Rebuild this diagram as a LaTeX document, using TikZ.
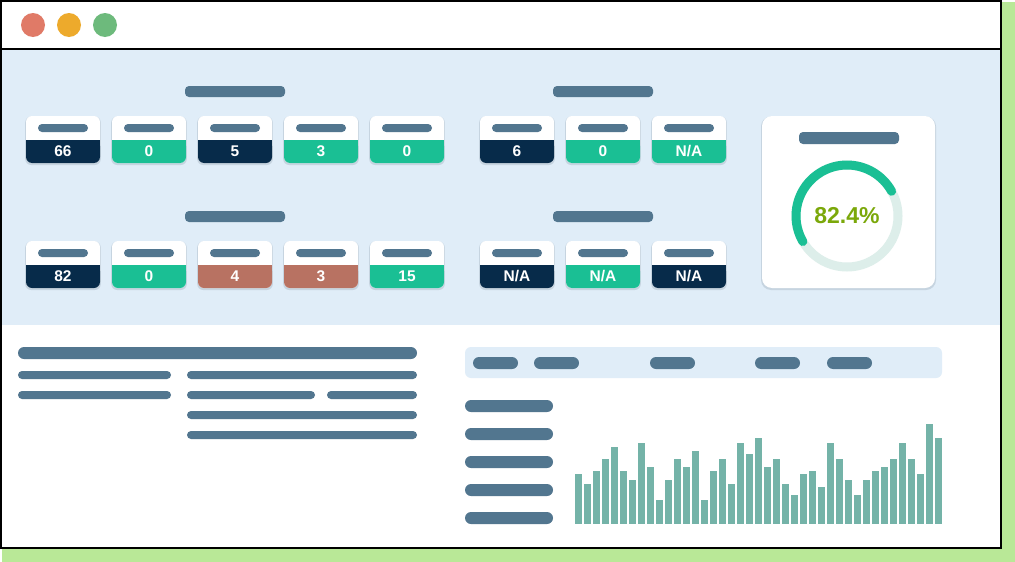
\documentclass[tikz,border=0pt]{standalone}
\usepackage{fontspec}
\setmainfont{Liberation Sans}
\usepackage{tikz}

\definecolor{navy}{HTML}{072B4A}
\definecolor{mint}{HTML}{1ABF94}
\definecolor{rust}{HTML}{B87262}
\definecolor{slate}{HTML}{52768F}
\definecolor{paleblue}{HTML}{E0EDF8}
\definecolor{barteal}{HTML}{74B3A8}
\definecolor{shadowgreen}{HTML}{B9E897}
\definecolor{dotred}{HTML}{E07A67}
\definecolor{dotyellow}{HTML}{EDAA2C}
\definecolor{dotgreen}{HTML}{6DBA7C}
\definecolor{trackgray}{HTML}{DDEEEA}
\definecolor{olive}{HTML}{7BA80A}
\definecolor{cardshadow}{HTML}{C6D4E0}

\newcommand{\na}{N/A}

\tikzset{
  pill/.style={fill=slate, rounded corners=4pt},
  cardnum/.style={text=white, inner sep=0pt, font=\bfseries\fontsize{15.5}{15.5}\selectfont},
}

\begin{document}
\begin{tikzpicture}[x=1pt, y=-1pt]
\useasboundingbox (0,0) rectangle (1015,562);

% window and its shadow
\fill[shadowgreen] (2,2) rectangle (1015,562);
\fill[white] (1,1) rectangle (1001,548);
\fill[paleblue] (1,49) rectangle (1001,325);
\draw[line width=2.2pt] (1,49) -- (1001,49);
\draw[line width=2.2pt] (1,1) rectangle (1001,548);

\fill[dotred] (33,25) circle (12);
\fill[dotyellow] (69,25) circle (12);
\fill[dotgreen] (105,25) circle (12);

% group titles
\fill[pill] (185,86) rectangle (285,97);
\fill[pill] (553,86) rectangle (653,97);
\fill[pill] (185,211) rectangle (285,222);
\fill[pill] (553,211) rectangle (653,222);

% stat cards
\foreach \x/\y/\c/\v in {26/116/navy/66, 112/116/mint/0, 198/116/navy/5, 284/116/mint/3, 370/116/mint/0,
    480/116/navy/6, 566/116/mint/0, 652/116/mint/\na,
    26/241/navy/82, 112/241/mint/0, 198/241/rust/4, 284/241/rust/3, 370/241/mint/15,
    480/241/navy/\na, 566/241/mint/\na, 652/241/navy/\na}{
  \fill[cardshadow, rounded corners=6pt] (\x-0.8,\y+0.5) rectangle (\x+74.8,\y+49);
  \fill[white, rounded corners=6pt] (\x,\y) rectangle (\x+74,\y+47);
  \fill[\c, rounded corners=6pt] (\x,\y+24) rectangle (\x+74,\y+47);
  \fill[\c] (\x,\y+24) rectangle (\x+74,\y+32);
  \fill[pill] (\x+12,\y+8) rectangle (\x+62,\y+16);
  \node[cardnum] (v\x\y) at (\x+37,\y+35.5) {\v};
}

% gauge card
\fill[cardshadow, rounded corners=10pt] (761,116.5) rectangle (936,290);
\fill[white, rounded corners=10pt] (762,116) rectangle (935,288);
\fill[pill] (799,132) rectangle (899,144);
\draw[trackgray, line width=9pt] (847,216) circle (51);
\draw[mint, line width=9pt, line cap=round] (847,216) ++(150:51) arc (150:331:51);
\node[text=olive, inner sep=0pt, font=\bfseries\fontsize{23}{23}\selectfont] (pct) at (847,216) {82.4\%};

% text lines bottom left
\fill[slate, rounded corners=6pt] (18,347) rectangle (417,359);
\fill[pill] (18,371) rectangle (171,379);
\fill[pill] (187,371) rectangle (417,379);
\fill[pill] (18,391) rectangle (171,399);
\fill[pill] (187,391) rectangle (315,399);
\fill[pill] (327,391) rectangle (417,399);
\fill[pill] (187,411) rectangle (417,419);
\fill[pill] (187,431) rectangle (417,439);

% chart header
\fill[paleblue, rounded corners=6pt] (465,347) rectangle (942,378);
\foreach \x in {473,534,650,755,827}
  \fill[slate, rounded corners=6pt] (\x,357) rectangle (\x+45,369);

% chart legend lines
\foreach \y in {406,434,462,490,518}
  \fill[slate, rounded corners=6pt] (465,\y-6) rectangle (553,\y+6);

% bars
\foreach \h [count=\i from 0] in {50,40,53,65,77,53,44,81,57,24,44,65,57,73,24,53,65,40,81,70,86,
    57,65,40,29,50,53,37,81,65,44,29,44,53,57,65,81,65,50,100,86}
  \fill[barteal] (575+9*\i,524) rectangle ++(7,-\h);

\end{tikzpicture}
\end{document}
